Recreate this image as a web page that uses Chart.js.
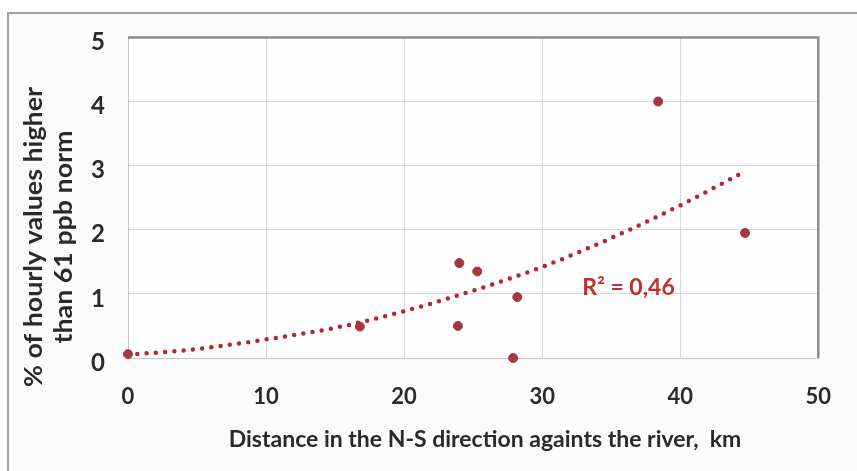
<!DOCTYPE html>
<html>
<head>
<meta charset="utf-8">
<script src="https://cdn.jsdelivr.net/npm/chart.js@4.4.1/dist/chart.umd.min.js"></script>
<style>
  html, body { margin: 0; padding: 0; background: #ffffff; }
  #wrap { width: 857px; height: 471px; position: relative; }
</style>
</head>
<body>
<div id="wrap"><canvas id="c" width="857" height="471"></canvas></div>
<script>
// ---- data ----
const pointX = [0, 16.8, 24.0, 25.3, 23.9, 28.2, 27.9, 38.4, 44.7];
const pointY = [0.06, 0.49, 1.48, 1.35, 0.50, 0.95, 0, 4.0, 1.95];

const trendX = [0, 5, 10, 15, 20, 25, 30, 35, 40, 44.6];
const trendY = [0.05, 0.14, 0.29, 0.47, 0.73, 1.05, 1.42, 1.87, 2.38, 2.9];

const xTicks = [0, 10, 20, 30, 40, 50];
const yTicks = [0, 1, 2, 3, 4, 5];

const xTitle = 'Distance in the N-S direction againts the river,  km';
const yTitleLines = ['% of hourly values higher', 'than 61 ppb norm'];
const r2Label = 'R\u00B2 = 0,46';
const r2Pos = { x: 36.26, y: 1.10 };

// ---- styling ----
const FONT = 'Lato, "Open Sans", sans-serif';
const markerColor = '#a5383e';
const trendColor = '#b5262d';
const labelColor = '#c0302f';
const textColor = '#2a2a2a';

const decor = {
  id: 'decor',
  beforeDraw(chart) {
    const ctx = chart.ctx;
    ctx.save();
    ctx.fillStyle = '#ffffff';
    ctx.fillRect(0, 0, chart.width, chart.height);
    ctx.fillStyle = '#fbfbfb';
    ctx.fillRect(8, 13, chart.width - 8, chart.height - 13);
    const a = chart.chartArea;
    ctx.fillStyle = '#fefefe';
    ctx.fillRect(a.left, a.top, a.right - a.left, a.bottom - a.top);
    ctx.strokeStyle = '#a0a0a0';
    ctx.lineWidth = 2;
    ctx.beginPath();
    ctx.moveTo(8, chart.height);
    ctx.lineTo(8, 13);
    ctx.lineTo(chart.width, 13);
    ctx.stroke();
    ctx.restore();
  },
  afterDatasetsDraw(chart) {
    const ctx = chart.ctx;
    const a = chart.chartArea;
    const xs = chart.scales.x, ys = chart.scales.y;
    ctx.save();
    // darker top and right border of the plot area
    ctx.strokeStyle = '#8c8c8c';
    ctx.lineWidth = 2.5;
    ctx.beginPath();
    ctx.moveTo(a.left, a.top);
    ctx.lineTo(a.right, a.top);
    ctx.lineTo(a.right, a.bottom);
    ctx.stroke();
    // R² label
    ctx.fillStyle = labelColor;
    ctx.font = 'bold 23px ' + FONT;
    ctx.textAlign = 'center';
    ctx.textBaseline = 'middle';
    ctx.fillText(r2Label, xs.getPixelForValue(r2Pos.x), ys.getPixelForValue(r2Pos.y));
    // x axis title
    ctx.fillStyle = textColor;
    ctx.font = 'bold 23px ' + FONT;
    ctx.textBaseline = 'alphabetic';
    ctx.fillText(xTitle, 485, 447);
    // y axis title (two lines, rotated)
    ctx.font = 'bold 25px ' + FONT;
    const stretch = 300 / ctx.measureText(yTitleLines[0]).width;
    const cy = 237;
    const baselineX = [42, 72];
    yTitleLines.forEach((t, i) => {
      ctx.save();
      ctx.translate(baselineX[i], cy);
      ctx.rotate(-Math.PI / 2);
      ctx.scale(stretch, 1);
      ctx.fillText(t, 0, 0);
      ctx.restore();
    });
    ctx.restore();
  }
};

new Chart(document.getElementById('c'), {
  type: 'scatter',
  data: {
    datasets: [
      {
        label: 'points',
        data: pointX.map((x, i) => ({ x: x, y: pointY[i] })),
        backgroundColor: markerColor,
        borderColor: markerColor,
        pointRadius: 4.5,
        pointHoverRadius: 4.5,
        clip: false,
        order: 1
      },
      {
        label: 'trend',
        type: 'line',
        data: trendX.map((x, i) => ({ x: x, y: trendY[i] })),
        borderColor: trendColor,
        borderWidth: 4.5,
        borderDash: [0, 9.3],
        borderCapStyle: 'round',
        pointRadius: 0,
        tension: 0.4,
        cubicInterpolationMode: 'monotone',
        fill: false,
        clip: false,
        order: 2
      }
    ]
  },
  options: {
    responsive: false,
    animation: false,
    devicePixelRatio: 1,
    layout: { padding: { top: 36, right: 23, left: 0, bottom: 0 } },
    plugins: { legend: { display: false }, tooltip: { enabled: false } },
    scales: {
      x: {
        type: 'linear',
        min: 0, max: 50,
        afterBuildTicks(s) { s.ticks = xTicks.map(v => ({ value: v })); },
        afterFit(s) { s.height = 113; },
        grid: { color: '#d9d9d9', lineWidth: 1, drawTicks: false },
        border: { color: '#c8c8c8', width: 1 },
        ticks: {
          padding: 26,
          color: textColor,
          font: { family: FONT, size: 22, weight: 'bold' },
          maxRotation: 0
        }
      },
      y: {
        type: 'linear',
        min: 0, max: 5,
        afterBuildTicks(s) { s.ticks = yTicks.map(v => ({ value: v })); },
        afterFit(s) { s.width = 128; },
        grid: { color: '#d9d9d9', lineWidth: 1, drawTicks: false },
        border: { color: '#c8c8c8', width: 1 },
        ticks: {
          padding: 23,
          labelOffset: 5,
          color: textColor,
          font: { family: FONT, size: 24, weight: 'bold' }
        }
      }
    }
  },
  plugins: [decor]
});
</script>
</body>
</html>
